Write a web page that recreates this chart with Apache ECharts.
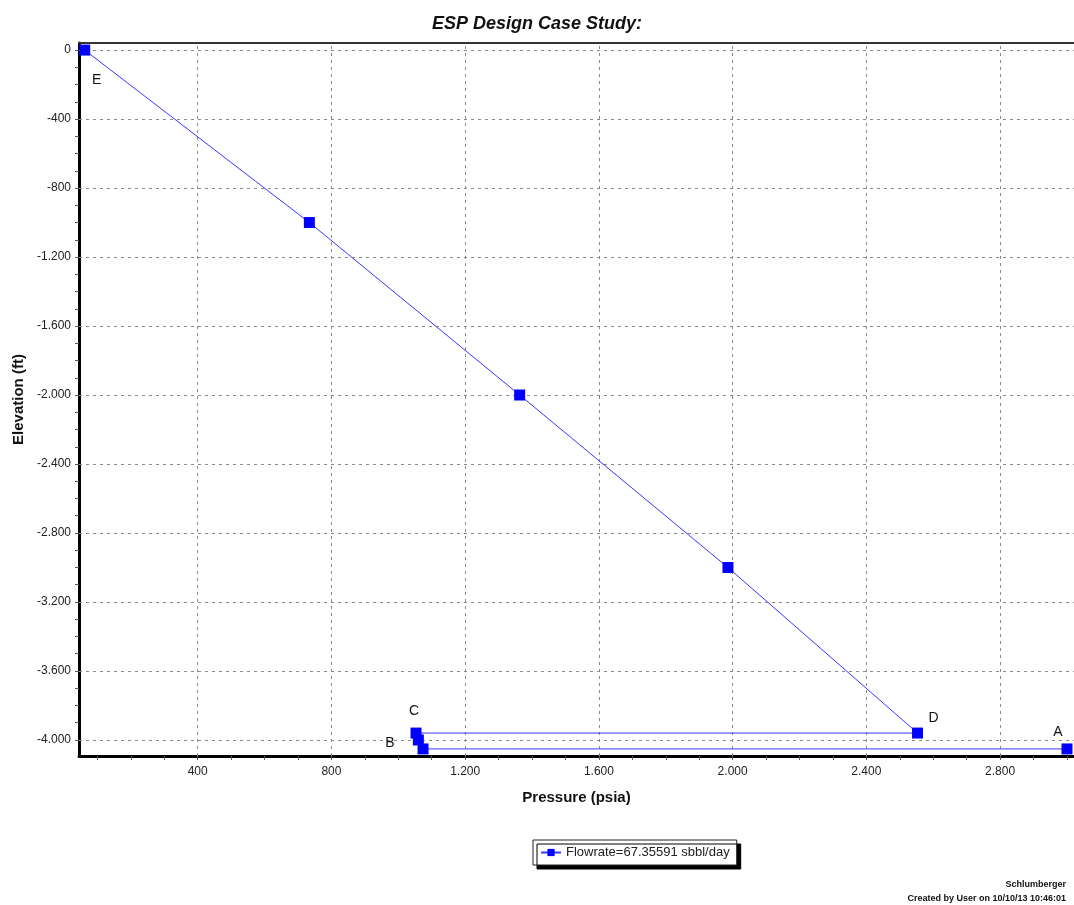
<!DOCTYPE html>
<html>
<head>
<meta charset="utf-8">
<title>ESP Design Case Study</title>
<script src="https://cdn.jsdelivr.net/npm/echarts@6/dist/echarts.min.js"></script>
<style>
  html, body { margin: 0; padding: 0; background: #fff; }
  #chart { width: 1074px; height: 905px; }
</style>
</head>
<body>
<div id="chart"></div>
<script>
// pressure traverse A -> B -> C -> D -> E
var pressure = [3000, 1074, 1060, 1053, 2553, 1986, 1363, 734, 62]
var elevation = [-4052, -4052, -4000, -3960, -3960, -3000, -2000, -1000, 0]
var pointNames = ['A', 'B', '', 'C', 'D', '', '', '', 'E']

var xTickLabels = [400, 800, 1200, 1600, 2000, 2400, 2800]
var yTickLabels = [0, -400, -800, -1200, -1600, -2000, -2400, -2800, -3200, -3600, -4000]

var seriesName = 'Flowrate=67.35591 sbbl/day'

// label placement for the lettered points
var labelPlace = {
  A: { position: 'top', offset: [-9, 1] },
  B: { position: 'left', offset: [-18, -6] },
  C: { position: 'top', offset: [-2, -4] },
  D: { position: 'top', offset: [16, 3] },
  E: { position: 'bottom', offset: [12, 13] }
}

function fmt(v) {
  var s = String(Math.abs(v)).replace(/\B(?=(\d{3})+(?!\d))/g, '.')
  return (v < 0 ? '-' : '') + s
}

var xMinor = []
for (var i = 100; i <= 3000; i += 100) xMinor.push(i)
var yMinor = []
for (var j = 0; j >= -4000; j -= 100) yMinor.push(j)

var points = pressure.map(function(p, k) {
  var n = pointNames[k]
  var item = { value: [p, elevation[k]] }
  if (n) {
    item.label = {
      show: true,
      formatter: n,
      position: labelPlace[n].position,
      offset: labelPlace[n].offset
    }
  }
  return item
})

var chart = echarts.init(document.getElementById('chart'))
chart.setOption({
  backgroundColor: '#fff',
  animation: false,
  textStyle: { fontFamily: 'Liberation Sans, Arial, sans-serif' },
  title: {
    text: 'ESP Design Case Study:',
    left: 'center',
    top: 10,
    textStyle: { fontSize: 18, fontWeight: 'bold', fontStyle: 'italic', color: '#111' }
  },
  grid: {
    left: 79,
    right: -3,
    top: 43,
    bottom: 149,
    show: false,
    containLabel: false
  },
  legend: {
    data: [seriesName],
    left: 533,
    top: 840,
    padding: [6, 7, 6, 7],
    itemWidth: 20,
    itemHeight: 9,
    itemGap: 5,
    backgroundColor: '#fff',
    borderColor: '#222',
    borderWidth: 1,
    borderRadius: 0,
    shadowColor: '#000',
    shadowBlur: 0,
    shadowOffsetX: 4,
    shadowOffsetY: 4,
    textStyle: { fontSize: 13, color: '#222' }
  },
  xAxis: [{
    type: 'value',
    min: 45,
    max: 3021,
    name: 'Pressure (psia)',
    nameLocation: 'middle',
    nameGap: 34,
    nameTextStyle: { fontSize: 15, fontWeight: 'bold', color: '#111' },
    axisLine: { show: true, onZero: false, lineStyle: { color: '#000', width: 3 } },
    axisTick: { show: true, length: 4, customValues: xMinor, lineStyle: { color: '#555' } },
    axisLabel: { customValues: xTickLabels, formatter: fmt, fontSize: 12, color: '#222', margin: 10 },
    splitLine: { show: false }
  }, {
    // top frame line
    type: 'value',
    position: 'top',
    min: 45,
    max: 3021,
    axisLine: { show: true, onZero: false, lineStyle: { color: '#333', width: 2 } },
    axisTick: { show: false },
    axisLabel: { show: false },
    splitLine: { show: false }
  }],
  yAxis: {
    type: 'value',
    min: -4093,
    max: 41,
    name: 'Elevation (ft)',
    nameLocation: 'middle',
    nameGap: 52,
    nameRotate: 90,
    nameTextStyle: { fontSize: 15, fontWeight: 'bold', color: '#111' },
    axisLine: { show: true, onZero: false, lineStyle: { color: '#000', width: 3 } },
    axisTick: { show: true, length: 4, customValues: yMinor, lineStyle: { color: '#555' } },
    axisLabel: { customValues: yTickLabels, formatter: fmt, fontSize: 12, color: '#222', margin: 8 },
    splitLine: { show: false }
  },
  graphic: [
    {
      type: 'text',
      right: 8,
      top: 880,
      style: { text: 'Schlumberger', font: 'bold 9px Liberation Sans, Arial', fill: '#111', textAlign: 'right' }
    },
    {
      type: 'text',
      right: 8,
      top: 894,
      style: { text: 'Created by User on 10/10/13 10:46:01', font: 'bold 9px Liberation Sans, Arial', fill: '#111', textAlign: 'right' }
    }
  ],
  series: [
    {
      name: 'grid',
      type: 'line',
      data: [],
      z: 1,
      silent: true,
      markLine: {
        silent: true,
        z: 1,
        symbol: 'none',
        animation: false,
        label: { show: false },
        lineStyle: { color: '#8a8a8a', type: [3, 4], width: 1 },
        data: xTickLabels.map(function(v) { return { xAxis: v } })
          .concat(yTickLabels.map(function(v) { return { yAxis: v } }))
      }
    },
    {
      name: seriesName,
      type: 'line',
      z: 3,
      data: points,
      symbol: 'rect',
      symbolSize: 11,
      showAllSymbol: true,
      clip: false,
      itemStyle: { color: '#0000ff' },
      lineStyle: { color: '#3838ff', width: 1 },
      label: { show: false, fontSize: 14, color: '#111' },
      emphasis: { disabled: true }
    }
  ]
})
</script>
</body>
</html>
